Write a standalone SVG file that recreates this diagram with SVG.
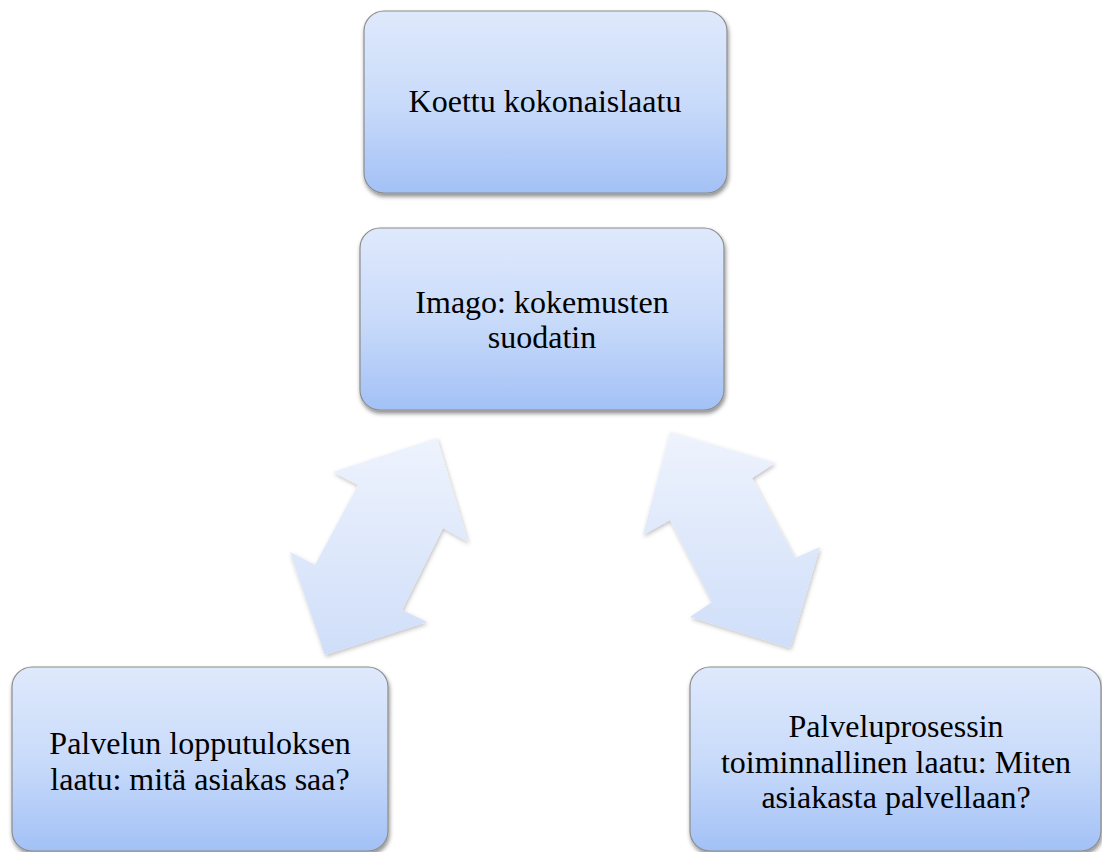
<svg xmlns="http://www.w3.org/2000/svg" width="1102" height="852" viewBox="0 0 1102 852">
<style>
.box{fill:url(#boxg);stroke:#8c8c8c;stroke-width:1.2;filter:url(#sh)}
.arr{fill:url(#arrg);filter:url(#ash)}
.t{font-family:"Liberation Serif","Times New Roman",serif;font-size:32px;fill:#000;text-anchor:middle}
</style>
<defs>
<linearGradient id="boxg" x1="0" y1="0" x2="0" y2="1">
<stop offset="0" stop-color="#dfe9fc"/>
<stop offset="0.5" stop-color="#c9dbfa"/>
<stop offset="1" stop-color="#a3c1f6"/>
</linearGradient>
<linearGradient id="arrg" x1="0" y1="0" x2="0" y2="1">
<stop offset="0" stop-color="#eef3fd"/>
<stop offset="1" stop-color="#cfdef9"/>
</linearGradient>
<filter id="sh" x="-10%" y="-10%" width="120%" height="125%">
<feDropShadow dx="1" dy="3" stdDeviation="2" flood-color="#000" flood-opacity="0.45"/>
</filter>
<filter id="ash" x="-20%" y="-20%" width="140%" height="140%">
<feDropShadow dx="1" dy="2" stdDeviation="2" flood-color="#000" flood-opacity="0.25"/>
</filter>
</defs>
<g id="connectors">
<path id="arrow-left" class="arr" d="M437,438 L468,542 L443,528 L402,610 L427,622 L325,655 L290,552 L315,565 L358,485 L333,472 Z"/>
<path id="arrow-right" class="arr" d="M670,432 L775,463 L752,478 L795,558 L820,547 L790,648 L690,617 L712,602 L670,520 L643,535 Z"/>
</g>
<g id="node-koettu">
<rect class="box" x="364" y="11" width="363" height="182" rx="20"/>
<text class="t" x="545" y="112">Koettu kokonaislaatu</text>
</g>
<g id="node-imago">
<rect class="box" x="360" y="228" width="364" height="182" rx="20"/>
<text class="t" x="542" y="313">Imago: kokemusten</text>
<text class="t" x="542" y="348">suodatin</text>
</g>
<g id="node-lopputulos">
<rect class="box" x="12" y="667" width="376" height="184" rx="20"/>
<text class="t" x="200" y="754">Palvelun lopputuloksen</text>
<text class="t" x="200" y="790">laatu: mitä asiakas saa?</text>
</g>
<g id="node-prosessi">
<rect class="box" x="690" y="667" width="411" height="184" rx="20"/>
<text class="t" x="896" y="737">Palveluprosessin</text>
<text class="t" x="896" y="773">toiminnallinen laatu: Miten</text>
<text class="t" x="896" y="808">asiakasta palvellaan?</text>
</g>
</svg>
